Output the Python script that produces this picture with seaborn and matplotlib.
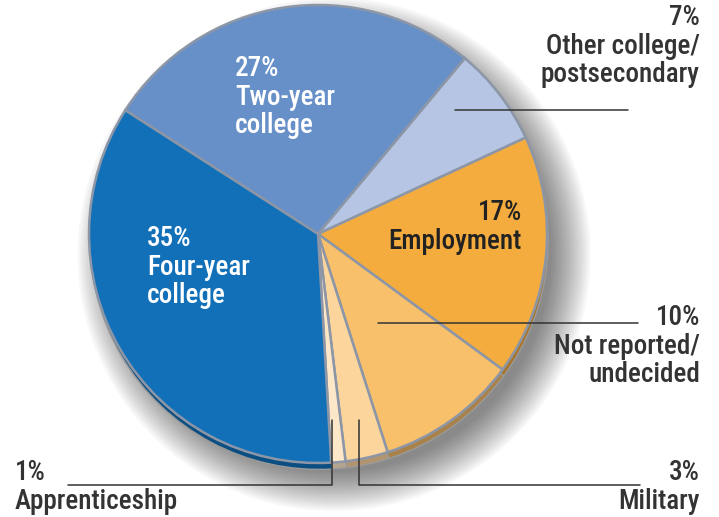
import numpy as np
import matplotlib.pyplot as plt
import seaborn as sns
from matplotlib.patches import Circle

# --- data ---
categories = ["Two-year college", "Other college/postsecondary", "Employment",
              "Not reported/undecided", "Military", "Apprenticeship", "Four-year college"]
shares = [27, 7, 17, 10, 3, 1, 35]
colors = ["#6890C8", "#B5C5E3", "#F5AC3E", "#F8C06B", "#FBD59C", "#FDE7C9", "#1170B8"]
dark_colors = ["#4A6896", "#8290A8", "#A8752A", "#A8824A", "#B09570", "#B5A590", "#0B4E82"]

sns.set_theme(style="white")
plt.rcParams["font.family"] = ["Roboto Condensed", "Roboto", "DejaVu Sans"]

fig = plt.figure(figsize=(7.19, 5.17), dpi=100)
ax = fig.add_axes([0.1238, 0.1044, 0.637, 0.886])
ax.axis("off")

# soft shadow, offset to the lower right
for i in range(18):
    r = 1.12 - i * 0.01
    ax.add_patch(Circle((0.07, -0.09), r, color="black", alpha=0.03, lw=0,
                        zorder=0, clip_on=False))

start = 147.3
# extruded side of the pie
ax.pie(shares, colors=dark_colors, startangle=start, counterclock=False,
       center=(0.005, -0.028), radius=1.0,
       wedgeprops=dict(edgecolor="#9a9a9a", linewidth=1.0, clip_on=False))
# top face
ax.pie(shares, colors=colors, startangle=start, counterclock=False,
       center=(0, 0), radius=1.0,
       wedgeprops=dict(edgecolor="#8c96a6", linewidth=1.8, clip_on=False))
ax.set_xlim(-1, 1)
ax.set_ylim(-1, 1)
ax.set_aspect("equal")

# overlay in pixel coordinates for labels
ov = fig.add_axes([0, 0, 1, 1])
ov.set_xlim(0, 719)
ov.set_ylim(517, 0)
ov.axis("off")
ov.patch.set_alpha(0)

fs = 19.5
txt = "#333333"
inside = dict(fontsize=fs, linespacing=1.08, va="top", fontweight="medium")
ov.text(235, 55, "27%\nTwo-year\ncollege", color="white", ha="left", **inside)
ov.text(147, 225, "35%\nFour-year\ncollege", color="white", ha="left", **inside)
ov.text(522, 199, "17%\nEmployment", color="#222222", ha="right", **inside)

ov.text(700, 4, "7%\nOther college/\npostsecondary", color=txt, ha="right", **inside)
ov.text(700, 304, "10%\nNot reported/\nundecided", color=txt, ha="right", **inside)
ov.text(700, 459, "3%\nMilitary", color=txt, ha="right", **inside)
ov.text(15, 459, "1%\nApprenticeship", color=txt, ha="left", **inside)

lc = dict(color="#333333", lw=1.1)
ov.plot([455, 628], [110, 110], **lc)
ov.plot([378, 638], [323, 323], **lc)
ov.plot([359, 359, 640], [420, 485, 485], **lc)
ov.plot([332, 332, 68], [420, 485, 485], **lc)

fig.savefig("out.png", dpi=100)
